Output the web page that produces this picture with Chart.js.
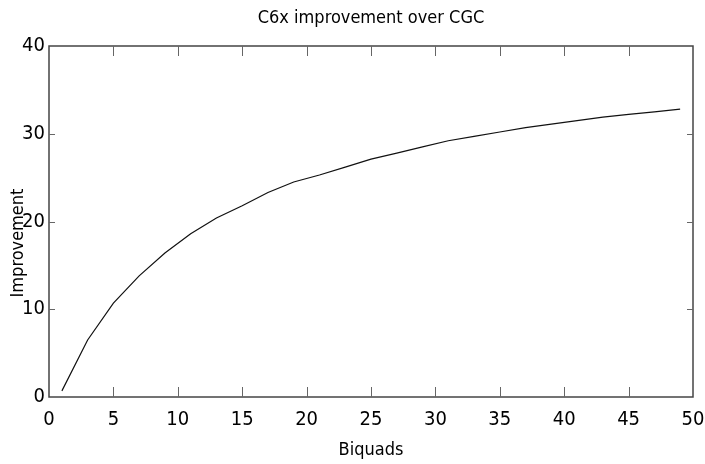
<!DOCTYPE html>
<html>
<head>
<meta charset="utf-8">
<script src="https://cdn.jsdelivr.net/npm/chart.js@4/dist/chart.umd.min.js"></script>
<style>
  html, body { margin: 0; padding: 0; background: #fff; }
  #wrap { width: 705px; height: 464px; }
</style>
</head>
<body>
<div id="wrap"><canvas id="chart" width="705" height="464"></canvas></div>
<script>
// values
const biquads = [1, 3, 5, 7, 9, 11, 13, 15, 17, 19, 21, 23, 25, 27, 29, 31, 33, 35, 37, 39, 41, 43, 45, 47, 49];
const improvement = [0.7, 6.5, 10.7, 13.8, 16.4, 18.6, 20.4, 21.8, 23.3, 24.5, 25.3, 26.2, 27.1, 27.8, 28.5, 29.2, 29.7, 30.2, 30.7, 31.1, 31.5, 31.9, 32.2, 32.5, 32.8];
const xTicks = [0, 5, 10, 15, 20, 25, 30, 35, 40, 45, 50];
const yTicks = [0, 10, 20, 30, 40];

const FONT = "'DejaVu Sans Condensed', 'Liberation Sans Narrow', 'Liberation Sans', sans-serif";
const AXIS_COLOR = '#444';

// MATLAB-like box with inward ticks on all four sides, title and y label
const matlabFrame = {
  id: 'matlabFrame',
  afterDraw(chart) {
    const { ctx, chartArea: a, scales } = chart;
    ctx.save();
    ctx.strokeStyle = AXIS_COLOR;
    ctx.lineWidth = 1.5;
    ctx.strokeRect(a.left, a.top, a.right - a.left, a.bottom - a.top);

    ctx.lineWidth = 1;
    ctx.strokeStyle = '#666';
    ctx.beginPath();
    for (const v of xTicks) {
      const px = Math.round(scales.x.getPixelForValue(v)) + 0.5;
      if (v === xTicks[0] || v === xTicks[xTicks.length - 1]) continue;
      ctx.moveTo(px, a.bottom); ctx.lineTo(px, a.bottom - 10);
      ctx.moveTo(px, a.top); ctx.lineTo(px, a.top + 10);
    }
    for (const v of yTicks) {
      const py = Math.round(scales.y.getPixelForValue(v)) + 0.5;
      if (v === yTicks[0] || v === yTicks[yTicks.length - 1]) continue;
      ctx.moveTo(a.left, py); ctx.lineTo(a.left + 6, py);
      ctx.moveTo(a.right, py); ctx.lineTo(a.right - 6, py);
    }
    ctx.stroke();

    ctx.fillStyle = '#000';
    ctx.font = '18px ' + FONT;
    ctx.textAlign = 'center';
    ctx.textBaseline = 'middle';
    ctx.fillText('C6x improvement over CGC', (a.left + a.right) / 2, 18);

    // y label sits a bit below the axis middle in the original
    ctx.translate(18, 243);
    ctx.rotate(-Math.PI / 2);
    ctx.fillText('Improvement', 0, 0);
    ctx.restore();
  }
};

new Chart(document.getElementById('chart'), {
  type: 'line',
  data: {
    datasets: [{
      label: 'Improvement',
      data: biquads.map((b, i) => ({ x: b, y: improvement[i] })),
      borderColor: '#111',
      borderWidth: 1.2,
      pointRadius: 0,
      tension: 0,
      fill: false
    }]
  },
  options: {
    responsive: false,
    animation: false,
    layout: { padding: { left: 0, right: 12, top: 46, bottom: 0 } },
    plugins: {
      legend: { display: false },
      tooltip: { enabled: false },
      title: { display: false }
    },
    scales: {
      x: {
        type: 'linear',
        min: 0,
        max: 50,
        afterBuildTicks: (scale) => { scale.ticks = xTicks.map(v => ({ value: v })); },
        afterFit: (scale) => {
          scale.height = 67;
          scale.paddingLeft = 0;
          scale.paddingRight = 0;
        },
        grid: { display: false, drawTicks: false },
        border: { display: false },
        ticks: {
          color: '#000',
          padding: 11,
          maxRotation: 0,
          font: { family: FONT, size: 20 }
        },
        title: {
          display: true,
          text: 'Biquads',
          color: '#000',
          padding: { top: 0, bottom: 3 },
          font: { family: FONT, size: 18 }
        }
      },
      y: {
        min: 0,
        max: 40,
        afterBuildTicks: (scale) => { scale.ticks = yTicks.map(v => ({ value: v })); },
        afterFit: (scale) => {
          scale.width = 49;
          scale.paddingTop = 0;
          scale.paddingBottom = 0;
        },
        grid: { display: false, drawTicks: false },
        border: { display: false },
        ticks: {
          color: '#000',
          padding: 4,
          font: { family: FONT, size: 20 }
        },
        title: { display: false }
      }
    }
  },
  plugins: [matlabFrame]
});
</script>
</body>
</html>
